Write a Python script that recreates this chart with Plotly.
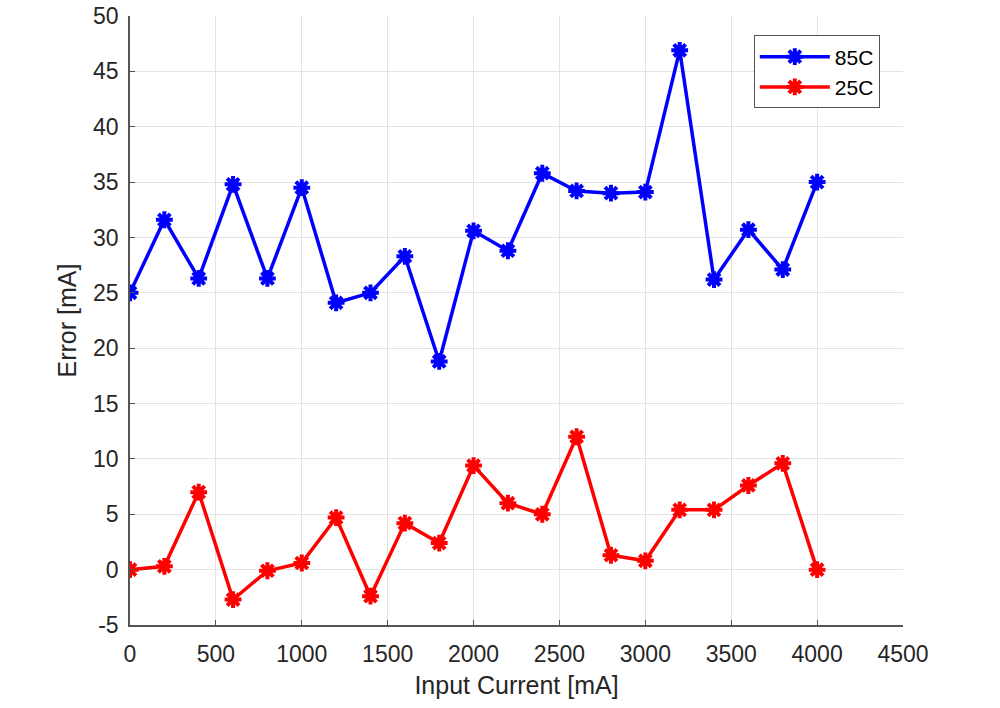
import plotly.graph_objects as go

x_current = [0, 200, 400, 600, 800, 1000, 1200, 1400, 1600, 1800, 2000,
             2200, 2400, 2600, 2800, 3000, 3200, 3400, 3600, 3800, 4000]
err_85c = [25.0, 31.6, 26.3, 34.8, 26.3, 34.5, 24.1, 25.0, 28.3, 18.8, 30.6,
           28.8, 35.8, 34.2, 34.0, 34.1, 46.9, 26.2, 30.7, 27.1, 35.0]
err_25c = [0.0, 0.3, 7.0, -2.7, -0.1, 0.6, 4.7, -2.4, 4.2, 2.4, 9.4,
           6.0, 5.0, 12.0, 1.3, 0.8, 5.4, 5.4, 7.6, 9.6, 0.0]

x_ticks = [0, 500, 1000, 1500, 2000, 2500, 3000, 3500, 4000, 4500]
y_ticks = [-5, 0, 5, 10, 15, 20, 25, 30, 35, 40, 45, 50]
y_ticktext = [str(v) for v in y_ticks]

fig = go.Figure()
for name, vals, col in [("85C", err_85c, "#0000FF"), ("25C", err_25c, "#FF0000")]:
    fig.add_trace(go.Scatter(
        x=x_current, y=vals, name=name, mode="lines+markers",
        line=dict(color=col, width=3.5),
        marker=dict(symbol="asterisk-open", size=14, color=col,
                    line=dict(color=col, width=4)),
    ))

axis_common = dict(
    showgrid=True, gridcolor="#E3E3E3", gridwidth=1,
    showline=True, linecolor="#555555", linewidth=1.5, mirror=False,
    ticks="inside", ticklen=5, tickcolor="#555555", tickwidth=1,
    zeroline=False, automargin=False,
    tickfont=dict(family="Liberation Sans, Arial", size=23, color="#262626"),
)

fig.update_layout(
    width=1000, height=708,
    margin=dict(l=130, r=97, t=16, b=83),
    paper_bgcolor="white", plot_bgcolor="white",
    font=dict(family="Liberation Sans, Arial", color="#262626"),
    xaxis=dict(range=[0, 4500], tickvals=x_ticks, ticklabelstandoff=8,
               title=dict(text="Input Current [mA]", font=dict(size=25), standoff=10),
               **axis_common),
    yaxis=dict(range=[-5, 50], tickvals=y_ticks, ticktext=y_ticktext,
               ticklabelstandoff=5,
               title=dict(text="Error [mA]", font=dict(size=25), standoff=9),
               **axis_common),
    legend=dict(x=0.97, y=0.968, xanchor="right", yanchor="top",
                bgcolor="white", bordercolor="#555555", borderwidth=1,
                font=dict(size=21, color="#000000"),
                itemwidth=70, tracegroupgap=0),
    showlegend=True,
)

fig.write_html("out.html")
